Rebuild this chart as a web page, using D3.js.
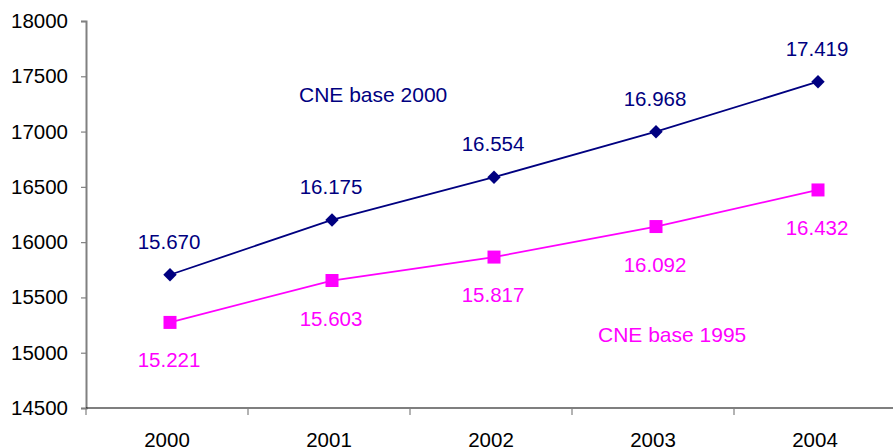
<!DOCTYPE html>
<html lang="es">
<head>
    <meta charset="UTF-8">
    <title>CNE base 2000 / base 1995</title>
    <script src="https://cdnjs.cloudflare.com/ajax/libs/d3/7.8.5/d3.min.js"></script>
    <style>
        body, html {
            margin: 0;
            padding: 0;
            background: #fff;
            font-family: "Liberation Sans", Arial, sans-serif;
            overflow: hidden;
        }
    </style>
</head>
<body>
    <div id="chart"></div>

    <script>
        const years = ["2000", "2001", "2002", "2003", "2004"];
        const yTicks = [14500, 15000, 15500, 16000, 16500, 17000, 17500, 18000];

        // values as plotted
        const base2000 = [15705, 16201, 16587, 16999, 17451];
        const base1995 = [15274, 15653, 15865, 16141, 16472];

        // printed labels
        const labels2000 = ["15.670", "16.175", "16.554", "16.968", "17.419"];
        const labels1995 = ["15.221", "15.603", "15.817", "16.092", "16.432"];

        const seriesNames = ["CNE base 2000", "CNE base 1995"];

        const width = 893, height = 448;
        const navy = "#000080", pink = "#ff00ff";
        const fontSize = "20.5px";

        const svg = d3.select("#chart").append("svg")
            .attr("width", width)
            .attr("height", height);

        const x = d3.scaleBand().domain(years).range([86, 896]);
        const y = d3.scaleLinear().domain([14500, 18000]).range([408, 21]);
        const cx = d => x(d) + x.bandwidth() / 2 + 3;

        // y axis
        const yAxis = svg.append("g")
            .attr("transform", "translate(86,0)")
            .call(d3.axisLeft(y).tickValues(yTicks).tickSize(5).tickPadding(13).tickFormat(d3.format("d")));
        yAxis.select(".domain").attr("stroke", "#808080").attr("stroke-width", 2);
        yAxis.selectAll(".tick line").attr("stroke", "#808080").attr("stroke-width", 1.2);
        yAxis.selectAll(".tick text")
            .attr("fill", "#000")
            .style("font-size", fontSize)
            .style("font-family", "Liberation Sans, Arial, sans-serif");

        // x axis with ticks between categories
        const xg = svg.append("g").attr("transform", "translate(0,408)");
        xg.append("line")
            .attr("x1", 86).attr("x2", 896)
            .attr("stroke", "#000").attr("stroke-width", 1.2);
        xg.selectAll(".xt")
            .data(years.concat(["end"]))
            .enter().append("line")
            .attr("x1", (d, i) => 86 + i * x.bandwidth())
            .attr("x2", (d, i) => 86 + i * x.bandwidth())
            .attr("y1", 0).attr("y2", 7)
            .attr("stroke", "#808080").attr("stroke-width", 1.2);
        xg.selectAll(".xl")
            .data(years)
            .enter().append("text")
            .attr("x", d => x(d) + x.bandwidth() / 2)
            .attr("y", 38.5)
            .attr("text-anchor", "middle")
            .style("font-size", fontSize)
            .text(d => d);

        const line = d3.line()
            .x((d, i) => cx(years[i]))
            .y(d => y(d));

        // base 2000 series
        svg.append("path")
            .datum(base2000)
            .attr("d", line)
            .attr("fill", "none")
            .attr("stroke", navy)
            .attr("stroke-width", 1.8);
        svg.selectAll(".m2000")
            .data(base2000)
            .enter().append("path")
            .attr("d", d3.symbol().type(d3.symbolSquare).size(90))
            .attr("transform", (d, i) => `translate(${cx(years[i])},${y(d)}) rotate(45)`)
            .attr("fill", navy);
        svg.selectAll(".l2000")
            .data(base2000)
            .enter().append("text")
            .attr("x", (d, i) => cx(years[i]) - 1)
            .attr("y", d => y(d) - 26)
            .attr("text-anchor", "middle")
            .attr("fill", navy)
            .style("font-size", fontSize)
            .text((d, i) => labels2000[i]);

        // base 1995 series
        svg.append("path")
            .datum(base1995)
            .attr("d", line)
            .attr("fill", "none")
            .attr("stroke", pink)
            .attr("stroke-width", 1.8);
        svg.selectAll(".m1995")
            .data(base1995)
            .enter().append("rect")
            .attr("x", (d, i) => cx(years[i]) - 6.5)
            .attr("y", d => y(d) - 6.5)
            .attr("width", 13)
            .attr("height", 13)
            .attr("fill", pink);
        svg.selectAll(".l1995")
            .data(base1995)
            .enter().append("text")
            .attr("x", (d, i) => cx(years[i]) - 1)
            .attr("y", d => y(d) + 45)
            .attr("text-anchor", "middle")
            .attr("fill", pink)
            .style("font-size", fontSize)
            .text((d, i) => labels1995[i]);

        // series names
        svg.append("text")
            .attr("x", 299).attr("y", 102)
            .attr("fill", navy)
            .style("font-size", "21px")
            .text(seriesNames[0]);
        svg.append("text")
            .attr("x", 598).attr("y", 341.5)
            .attr("fill", pink)
            .style("font-size", "21px")
            .text(seriesNames[1]);
    </script>
</body>
</html>
